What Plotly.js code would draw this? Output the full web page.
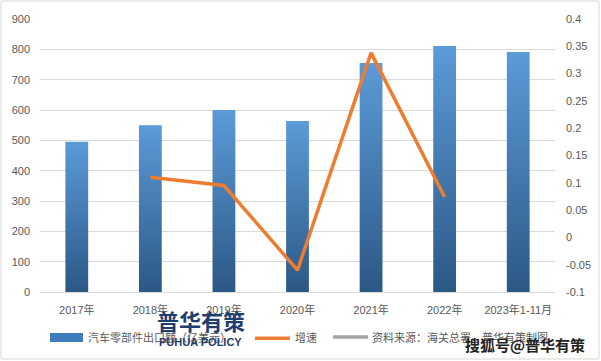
<!DOCTYPE html>
<html>
<head>
<meta charset="utf-8">
<script src="https://cdn.plot.ly/plotly-3.0.1.min.js"></script>
<style>html,body{margin:0;padding:0;background:#fff;}#chart{width:601px;height:361px;}</style>
</head>
<body>
<div id="chart"></div>
<script>
const categories = ["2017年","2018年","2019年","2020年","2021年","2022年","2023年1-11月"];
const exportValues = [495, 550, 600, 564, 755, 811, 791];
const growthCats = ["2018年","2019年","2020年","2021年","2022年"];
const growthValues = [0.11, 0.095, -0.06, 0.338, 0.074];
const rightTickVals = [-0.1,-0.05,0,0.05,0.1,0.15,0.2,0.25,0.3,0.35,0.4];
const rightTickText = ["-0.1","-0.05","0","0.05","0.1","0.15","0.2","0.25","0.3","0.35","0.4"];
const seriesNames = ["汽车零部件出口额（亿美元）","增速","资料来源：海关总署，普华有策制图"];
const seriesColors = ["#3E7CBF","#ED7D31","#A5A5A5"];

const fontFam = "Liberation Sans, Noto Sans CJK SC, sans-serif";
const traces = [
  {type:"bar", x:categories, y:exportValues, name:seriesNames[0],
   marker:{color:seriesColors[0]}, hoverinfo:"none"},
  {type:"scatter", mode:"lines", x:growthCats, y:growthValues, yaxis:"y2", name:seriesNames[1],
   line:{color:seriesColors[1], width:3.5}, hoverinfo:"none"}
];

// manual legend (paper coords)
const legY = -0.165;
const layout = {
  width:601, height:361,
  margin:{l:40, r:46, t:19, b:69},
  paper_bgcolor:"#fff", plot_bgcolor:"#fff",
  font:{family:fontFam, size:11, color:"#595959"},
  bargap:0.69,
  showlegend:false,
  xaxis:{type:"category", showgrid:false, zeroline:false, showline:true, linecolor:"#D9D9D9",
         ticks:"", ticklabelstandoff:8, tickfont:{size:11, color:"#595959"}},
  yaxis:{range:[0,900], dtick:100, showgrid:true, gridcolor:"#D9D9D9", gridwidth:1,
         zeroline:false, ticks:"", ticklabelstandoff:9, tickfont:{size:11, color:"#595959"}},
  yaxis2:{overlaying:"y", side:"right", range:[-0.1,0.4], tickvals:rightTickVals, ticktext:rightTickText,
          showgrid:false, zeroline:false, ticks:"", ticklabelstandoff:10, tickfont:{size:11, color:"#595959"}},
  shapes:[
    {type:"rect", xref:"paper", yref:"paper", x0:-0.0757, x1:1.0854, y0:-0.2454, y1:1.0659,
     line:{color:"#D9D9D9", width:1}, fillcolor:"rgba(0,0,0,0)", layer:"below"},
    {type:"rect", xref:"paper", yref:"paper", x0:0.0194, x1:0.0835, y0:-0.183, y1:-0.150,
     line:{width:0}, fillcolor:seriesColors[0]},
    {type:"line", xref:"paper", yref:"paper", x0:0.4175, x1:0.4854, y0:-0.169, y1:-0.169,
     line:{color:seriesColors[1], width:3.5}},
    {type:"line", xref:"paper", yref:"paper", x0:0.5689, x1:0.6369, y0:-0.165, y1:-0.165,
     line:{color:seriesColors[2], width:3.5}}
  ],
  annotations:[
    {xref:"paper", yref:"paper", x:0.0893, y:legY, text:seriesNames[0], showarrow:false,
     xanchor:"left", yanchor:"middle", font:{size:11, color:"#595959"}},
    {xref:"paper", yref:"paper", x:0.4913, y:legY, text:seriesNames[1], showarrow:false,
     xanchor:"left", yanchor:"middle", font:{size:11, color:"#595959"}},
    {xref:"paper", yref:"paper", x:0.6408, y:legY, text:seriesNames[2], showarrow:false,
     xanchor:"left", yanchor:"middle", font:{size:11, color:"#595959"}},
    {xref:"paper", yref:"paper", x:0.3126, y:-0.103, text:"<b>普华有策</b>", showarrow:false,
     font:{family:"Noto Sans CJK SC", size:22, color:"#1F3D6E"}, xanchor:"center", yanchor:"middle"},
    {xref:"paper", yref:"paper", x:0.3126, y:-0.183, text:"<b>PUHUA POLICY</b>", showarrow:false,
     font:{family:"Liberation Sans", size:11, color:"#1F3D6E"}, xanchor:"center", yanchor:"middle"},
    {xref:"paper", yref:"paper", x:1.063, y:-0.194, text:"<b>搜狐号@普华有策</b>", showarrow:false,
     font:{family:"Noto Sans CJK SC", size:15, color:"#222"}, xanchor:"right", yanchor:"middle"}
  ]
};
Plotly.newPlot("chart", traces, layout, {displayModeBar:false, staticPlot:true}).then(function(gd){
  const svg = gd.querySelector("svg.main-svg");
  const ns = "http://www.w3.org/2000/svg";
  let defs = svg.querySelector("defs");
  if(!defs){ defs = document.createElementNS(ns,"defs"); svg.insertBefore(defs, svg.firstChild); }
  const g = document.createElementNS(ns,"linearGradient");
  g.setAttribute("id","barGrad"); g.setAttribute("x1","0"); g.setAttribute("y1","0");
  g.setAttribute("x2","0"); g.setAttribute("y2","1");
  [["0%","#5B9BD8"],["100%","#2C5885"]].forEach(function(s){
    const st = document.createElementNS(ns,"stop");
    st.setAttribute("offset",s[0]); st.setAttribute("stop-color",s[1]); g.appendChild(st);
  });
  defs.appendChild(g);
  gd.querySelectorAll(".barlayer .point path").forEach(function(p){ p.style.fill = "url(#barGrad)"; });
});
</script>
</body>
</html>
